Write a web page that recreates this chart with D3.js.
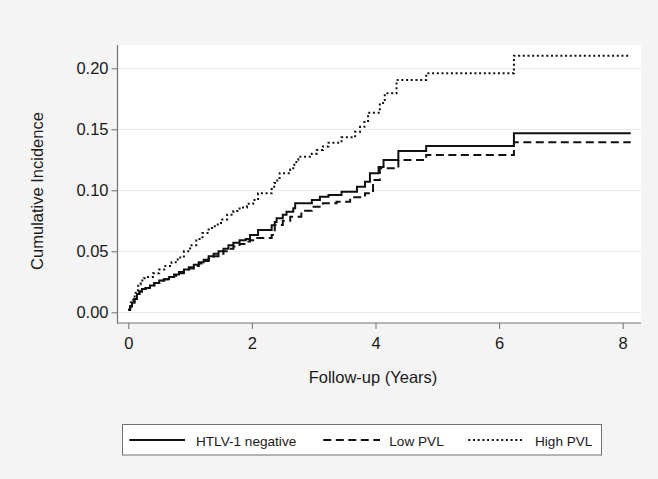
<!DOCTYPE html>
<html>
<head>
<meta charset="utf-8">
<script src="https://cdn.jsdelivr.net/npm/d3@7"></script>
<style>
  html, body { margin: 0; padding: 0; background: #f4f4f4; }
  svg { display: block; font-family: "Liberation Sans", Arial, sans-serif; }
</style>
</head>
<body>
<svg id="chart" width="658" height="479"></svg>
<script>
// ---- data ----
const seriesNames = ["HTLV-1 negative", "Low PVL", "High PVL"];
const xTicks = [0, 2, 4, 6, 8];
const yTicks = [0.00, 0.05, 0.10, 0.15, 0.20];

const negTimes = [0, 0.03, 0.06, 0.1, 0.14, 0.18, 0.22, 0.28, 0.35, 0.42, 0.5, 0.58, 0.66, 0.74, 0.82, 0.9, 0.98, 1.06, 1.14, 1.22, 1.3, 1.38, 1.46, 1.54, 1.62, 1.7, 1.8, 1.9, 1.97, 2.1, 2.32, 2.37, 2.4, 2.5, 2.56, 2.67, 2.7, 2.97, 3.1, 3.24, 3.45, 3.70, 3.83, 3.91, 4.05, 4.13, 4.37, 4.82, 6.24, 8.13];
const negValues = [0.002, 0.005, 0.008, 0.011, 0.015, 0.017, 0.019, 0.020, 0.022, 0.024, 0.026, 0.027, 0.029, 0.031, 0.033, 0.035, 0.037, 0.039, 0.041, 0.043, 0.046, 0.048, 0.050, 0.052, 0.055, 0.057, 0.059, 0.060, 0.0634, 0.0675, 0.0713, 0.074, 0.077, 0.080, 0.0825, 0.0852, 0.0893, 0.092, 0.0948, 0.0961, 0.0989, 0.103, 0.107, 0.114, 0.119, 0.1248, 0.1322, 0.1363, 0.1467, 0.1467];

const lowTimes = [0, 0.03, 0.06, 0.1, 0.14, 0.18, 0.22, 0.28, 0.35, 0.42, 0.5, 0.58, 0.66, 0.74, 0.82, 0.9, 0.98, 1.06, 1.14, 1.22, 1.3, 1.38, 1.46, 1.54, 1.62, 1.7, 1.8, 1.9, 1.97, 2.02, 2.32, 2.37, 2.5, 2.62, 2.8, 2.97, 3.15, 3.37, 3.59, 3.83, 3.96, 4.07, 4.37, 4.82, 6.24, 8.13];
const lowValues = [0.002, 0.005, 0.008, 0.011, 0.015, 0.017, 0.019, 0.020, 0.022, 0.024, 0.026, 0.027, 0.029, 0.030, 0.032, 0.034, 0.036, 0.038, 0.040, 0.042, 0.044, 0.046, 0.048, 0.050, 0.052, 0.054, 0.056, 0.058, 0.059, 0.061, 0.0634, 0.0716, 0.075, 0.0784, 0.0833, 0.0866, 0.0893, 0.0907, 0.0943, 0.0975, 0.1084, 0.118, 0.1248, 0.129, 0.1393, 0.1393];

const highTimes = [0, 0.04, 0.08, 0.12, 0.16, 0.2, 0.25, 0.3, 0.4, 0.5, 0.6, 0.7, 0.8, 0.9, 1.0, 1.1, 1.2, 1.3, 1.4, 1.5, 1.6, 1.7, 1.8, 1.92, 2.02, 2.1, 2.32, 2.36, 2.41, 2.45, 2.62, 2.67, 2.72, 2.75, 2.97, 3.05, 3.15, 3.24, 3.45, 3.67, 3.75, 3.82, 3.88, 4.07, 4.15, 4.34, 4.82, 6.24, 8.13];
const highValues = [0.002, 0.008, 0.013, 0.018, 0.023, 0.026, 0.028, 0.029, 0.032, 0.035, 0.038, 0.041, 0.045, 0.050, 0.055, 0.060, 0.065, 0.069, 0.072, 0.076, 0.080, 0.083, 0.086, 0.089, 0.092, 0.0975, 0.101, 0.106, 0.110, 0.114, 0.117, 0.121, 0.125, 0.1276, 0.130, 0.133, 0.136, 0.139, 0.1434, 0.148, 0.152, 0.156, 0.1636, 0.1715, 0.1795, 0.1904, 0.196, 0.2103, 0.2103];

// ---- layout ----
const svg = d3.select("#chart");
const W = 658, H = 479;
const plot = { left: 117.5, right: 641, top: 45, bottom: 323 };

svg.append("rect").attr("x", 0).attr("y", 0).attr("width", W).attr("height", H).attr("fill", "#f4f4f4");
svg.append("rect").attr("x", plot.left).attr("y", plot.top)
   .attr("width", plot.right - plot.left).attr("height", plot.bottom - plot.top)
   .attr("fill", "#ffffff");

const x = d3.scaleLinear().domain([0, 8]).range([128.3, 622.7]);
const y = d3.scaleLinear().domain([0, 0.2]).range([312.3, 68.3]);

// gridlines
svg.append("g").selectAll("line").data(yTicks).join("line")
  .attr("x1", plot.left + 1).attr("x2", plot.right)
  .attr("y1", d => Math.round(y(d)) + 0.5).attr("y2", d => Math.round(y(d)) + 0.5)
  .attr("stroke", "#eaeaea").attr("stroke-width", 1);

// axes
const axisColor = "#707070";
const yAxis = svg.append("g").attr("transform", `translate(${plot.left},0)`)
  .call(d3.axisLeft(y).tickValues(yTicks).tickFormat(d3.format(".2f")).tickSize(6).tickPadding(3));
const xAxis = svg.append("g").attr("transform", `translate(0,${plot.bottom})`)
  .call(d3.axisBottom(x).tickValues(xTicks).tickFormat(d3.format("d")).tickSize(6).tickPadding(8));
[yAxis, xAxis].forEach(g => {
  g.select(".domain").remove();
  g.selectAll(".tick line").attr("stroke", axisColor);
  g.selectAll(".tick text").attr("fill", "#1a1a1a").style("font-size", "16.5px")
    .style("font-family", "'Liberation Sans', Arial, sans-serif");
});
svg.append("line").attr("x1", plot.left).attr("x2", plot.left)
  .attr("y1", plot.top).attr("y2", plot.bottom + 0.5).attr("stroke", axisColor).attr("stroke-width", 1.2);
svg.append("line").attr("x1", plot.left).attr("x2", plot.right)
  .attr("y1", plot.bottom).attr("y2", plot.bottom).attr("stroke", axisColor).attr("stroke-width", 1.2);

// axis titles
svg.append("text").attr("x", 373).attr("y", 383)
  .attr("text-anchor", "middle").attr("fill", "#1a1a1a").style("font-size", "16.5px")
  .text("Follow-up (Years)");
svg.append("text").attr("transform", "translate(42.5,191) rotate(-90)")
  .attr("text-anchor", "middle").attr("fill", "#1a1a1a").style("font-size", "16.5px")
  .text("Cumulative Incidence");

// series
const styles = [
  { dash: null, width: 2 },
  { dash: "8,4.5", width: 2 },
  { dash: "2,2.7", width: 2 }
];
const series = [
  d3.zip(negTimes, negValues),
  d3.zip(lowTimes, lowValues),
  d3.zip(highTimes, highValues)
];
const line = d3.line().x(d => x(d[0])).y(d => y(d[1])).curve(d3.curveStepAfter);
series.forEach((s, i) => {
  svg.append("path").datum(s).attr("d", line)
    .attr("fill", "none").attr("stroke", "#111")
    .attr("stroke-width", styles[i].width)
    .attr("stroke-dasharray", styles[i].dash);
});

// legend
const lg = svg.append("g");
lg.append("rect").attr("x", 122.5).attr("y", 424.5).attr("width", 479).attr("height", 30.5)
  .attr("fill", "#ffffff").attr("stroke", "#707070").attr("stroke-width", 1);
const legendItems = [
  { x1: 129.3, x2: 185, tx: 196 },
  { x1: 323.3, x2: 380, tx: 389.3 },
  { x1: 468.3, x2: 524, tx: 535 }
];
legendItems.forEach((it, i) => {
  lg.append("line").attr("x1", it.x1).attr("x2", it.x2).attr("y1", 440).attr("y2", 440)
    .attr("stroke", "#111").attr("stroke-width", i === 0 ? 2 : 2)
    .attr("stroke-dasharray", styles[i].dash);
  lg.append("text").attr("x", it.tx).attr("y", 445.5).attr("fill", "#1a1a1a")
    .style("font-size", "13.6px").text(seriesNames[i]);
});
</script>
</body>
</html>
